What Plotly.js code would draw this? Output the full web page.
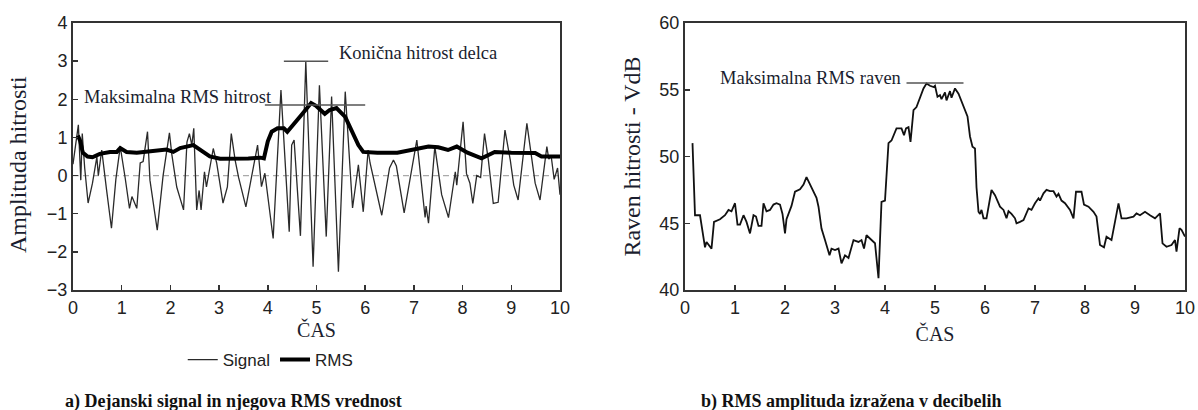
<!DOCTYPE html>
<html>
<head>
<meta charset="utf-8">
<script src="https://cdn.plot.ly/plotly-3.0.1.min.js"></script>
<style>
html,body{margin:0;padding:0;background:#fff;}
#chart{width:1198px;height:410px;}
</style>
</head>
<body>
<div id="chart"></div>
<script>
// ---- Panel a) raw signal and its RMS ----
const sigT = [0.00,0.06,0.11,0.16,0.19,0.24,0.31,0.40,0.49,0.52,0.59,0.69,0.79,0.88,0.97,1.07,1.16,1.21,1.31,1.38,1.44,1.53,1.58,1.73,1.85,1.98,2.03,2.13,2.27,2.34,2.39,2.44,2.48,2.54,2.59,2.63,2.70,2.74,2.88,2.95,3.08,3.17,3.25,3.33,3.40,3.55,3.67,3.79,3.87,3.94,4.11,4.27,4.44,4.49,4.54,4.67,4.78,4.93,5.06,5.20,5.31,5.45,5.59,5.74,5.86,5.96,6.06,6.10,6.34,6.50,6.58,6.64,6.80,7.06,7.23,7.25,7.30,7.43,7.57,7.71,7.85,7.88,8.01,8.08,8.15,8.21,8.29,8.37,8.45,8.53,8.63,8.73,8.87,8.98,9.05,9.14,9.32,9.42,9.49,9.59,9.73,9.77,9.82,9.88,9.95,10.00];
const sigV = [0.30,0.90,1.33,-0.12,1.10,0.20,-0.72,-0.20,0.49,0.00,0.67,-0.38,-1.38,-0.10,0.76,-0.05,-0.86,-0.55,-0.86,0.33,0.37,1.15,-0.12,-1.43,0.00,1.12,0.55,-0.30,-0.90,0.88,1.10,0.80,1.24,-0.90,-0.39,-0.90,0.10,-0.30,0.71,0.33,-0.72,-0.30,1.10,0.40,-0.05,-0.82,-0.03,0.80,-0.29,0.06,-1.65,2.24,-1.47,0.80,0.93,-1.58,2.99,-2.39,2.37,-1.60,2.07,-2.52,2.20,-0.85,0.28,-0.95,0.67,0.33,-1.04,0.20,0.41,0.25,-0.98,0.93,-1.10,-0.80,-1.25,0.76,-0.50,-1.10,0.10,-0.25,1.41,0.05,-0.20,-0.73,0.00,-0.05,1.10,0.40,-0.73,-0.70,1.19,0.40,-0.25,-0.64,1.37,0.40,-0.20,-0.64,0.76,0.43,0.50,-0.10,0.20,-0.50];

const rmsT = [0.10,0.15,0.20,0.30,0.40,0.55,0.76,0.90,0.97,1.10,1.31,1.51,1.72,1.92,2.06,2.20,2.47,2.63,2.81,3.02,3.30,3.60,3.85,3.92,4.00,4.08,4.20,4.33,4.40,4.52,4.69,4.89,4.99,5.10,5.17,5.27,5.41,5.59,5.72,5.86,5.96,6.25,6.66,7.10,7.30,7.50,7.70,7.88,8.10,8.39,8.66,9.00,9.49,9.62,10.00];
const rmsV = [1.05,0.90,0.60,0.50,0.48,0.57,0.62,0.62,0.72,0.62,0.60,0.62,0.64,0.68,0.62,0.72,0.80,0.67,0.50,0.44,0.44,0.45,0.47,0.45,0.90,1.15,1.24,1.24,1.15,1.32,1.59,1.90,1.83,1.70,1.62,1.72,1.77,1.54,1.19,0.80,0.62,0.60,0.60,0.72,0.76,0.74,0.67,0.76,0.60,0.45,0.62,0.60,0.59,0.50,0.50];

// ---- Panel b) RMS level in dB ----
const dbT = [0.15,0.20,0.30,0.37,0.40,0.43,0.50,0.53,0.58,0.70,0.80,0.87,0.93,1.00,1.05,1.10,1.17,1.23,1.30,1.37,1.42,1.47,1.53,1.57,1.63,1.70,1.77,1.83,1.90,1.95,2.00,2.03,2.13,2.20,2.30,2.37,2.43,2.53,2.63,2.67,2.73,2.80,2.89,2.93,3.00,3.07,3.13,3.20,3.27,3.37,3.47,3.53,3.58,3.63,3.73,3.80,3.87,3.93,4.00,4.07,4.13,4.23,4.33,4.38,4.42,4.47,4.51,4.57,4.63,4.70,4.77,4.83,4.90,4.97,5.00,5.05,5.10,5.13,5.20,5.23,5.30,5.33,5.40,5.47,5.53,5.60,5.65,5.70,5.75,5.80,5.83,5.87,5.90,5.93,5.97,6.03,6.13,6.20,6.30,6.37,6.40,6.43,6.47,6.53,6.60,6.63,6.70,6.77,6.87,6.93,7.00,7.07,7.10,7.17,7.23,7.30,7.37,7.43,7.47,7.53,7.60,7.70,7.77,7.82,7.93,7.98,8.07,8.17,8.23,8.30,8.38,8.43,8.53,8.60,8.67,8.73,8.83,8.97,9.03,9.10,9.20,9.30,9.40,9.50,9.55,9.63,9.73,9.80,9.83,9.89,9.93,10.00];
const dbV = [51.0,45.6,45.6,43.74,43.2,43.6,43.2,43.1,45.1,45.3,45.6,46.0,45.9,46.5,44.9,44.9,45.6,45.1,44.24,45.6,45.5,44.8,44.8,46.5,45.9,46.0,46.4,46.5,46.4,45.7,44.24,45.3,46.3,47.36,47.55,47.9,48.45,47.7,46.9,46.24,44.6,43.74,42.6,43.1,42.99,43.1,42.0,42.6,42.4,43.74,43.6,43.74,43.1,44.1,43.74,43.5,40.88,46.6,46.7,51.0,51.2,52.1,52.1,51.6,52.1,52.2,51.1,53.47,53.7,54.47,55.1,55.47,55.3,55.2,55.3,54.47,54.6,54.3,54.8,54.2,54.9,54.4,55.1,54.7,54.1,53.35,53.0,51.5,50.73,50.6,47.7,45.86,45.7,46.0,45.37,45.37,47.49,47.1,46.24,46.0,45.7,45.37,45.9,45.7,45.37,44.99,45.1,45.24,46.11,46.0,46.5,46.87,46.7,47.24,47.5,47.4,47.4,47.0,47.2,46.7,46.5,46.0,45.37,47.36,47.36,46.4,46.24,45.86,45.5,43.37,43.2,43.99,43.74,45.24,46.49,45.37,45.37,45.5,45.74,45.6,45.86,45.6,45.37,45.74,43.49,43.24,43.37,43.74,42.87,44.62,44.5,44.0];

// annotation marker levels (data units)
const rmsMaxLevel = 1.85, rmsMaxSpan = [3.94, 6.0];
const peakLevel = 3.0, peakSpan = [4.33, 5.24];
const dbMaxLevel = 55.5, dbMaxSpan = [4.43, 5.57];

const serif = 'Liberation Serif, Times New Roman, serif';
const sans = 'Liberation Sans, Arial, sans-serif';
const txt = '#1a1d2e';

const traces = [
  {x: sigT, y: sigV, type: 'scatter', mode: 'lines', name: 'Signal',
   line: {color: '#2a2a2a', width: 1.3}, xaxis: 'x', yaxis: 'y'},
  {x: rmsT, y: rmsV, type: 'scatter', mode: 'lines', name: 'RMS',
   line: {color: '#000', width: 4}, xaxis: 'x', yaxis: 'y'},
  {x: dbT, y: dbV, type: 'scatter', mode: 'lines', name: 'dB', showlegend: false,
   line: {color: '#111', width: 1.8}, xaxis: 'x2', yaxis: 'y2'}
];

const axBase = {
  showline: true, linecolor: '#333', linewidth: 2, mirror: true,
  ticks: 'inside', ticklen: 5, tickwidth: 1.5, tickcolor: '#333',
  showgrid: false, zeroline: false, automargin: false,
  tickfont: {family: sans, size: 18, color: '#222'}
};

const yDom = [1 - 290/410, 1 - 23/410];

const layout = {
  width: 1198, height: 410,
  margin: {l: 0, r: 0, t: 0, b: 0},
  paper_bgcolor: '#fff', plot_bgcolor: '#fff',
  showlegend: true,
  legend: {orientation: 'h', x: 0.226, xanchor: 'center', y: 0.122, yanchor: 'middle',
           font: {family: sans, size: 17, color: '#222'}, itemwidth: 30, tracegroupgap: 0},
  xaxis: Object.assign({}, axBase, {domain: [73/1198, 560/1198], range: [0, 10], dtick: 1, anchor: 'y',
    title: {text: 'ČAS', font: {family: serif, size: 20, color: txt}, standoff: 6}}),
  yaxis: Object.assign({}, axBase, {domain: yDom, range: [-3, 4], dtick: 1, anchor: 'x'}),
  xaxis2: Object.assign({}, axBase, {domain: [685/1198, 1185/1198], range: [0, 10], dtick: 1, anchor: 'y2',
    title: {text: 'ČAS', font: {family: serif, size: 20, color: txt}, standoff: 10}}),
  yaxis2: Object.assign({}, axBase, {domain: yDom, range: [40, 60], dtick: 5, anchor: 'x2',
    title: {text: 'Raven hitrosti - VdB', font: {family: serif, size: 24, color: txt}, standoff: 12}}),
  shapes: [
    {type: 'line', xref: 'x', yref: 'y', x0: 0, x1: 10, y0: 0, y1: 0, layer: 'below',
     line: {color: '#aaa', width: 1.2, dash: '6px,4px'}},
    {type: 'line', xref: 'x', yref: 'y', x0: rmsMaxSpan[0], x1: rmsMaxSpan[1], y0: rmsMaxLevel, y1: rmsMaxLevel,
     line: {color: '#555', width: 1.5}},
    {type: 'line', xref: 'x', yref: 'y', x0: peakSpan[0], x1: peakSpan[1], y0: peakLevel, y1: peakLevel,
     line: {color: '#555', width: 1.5}},
    {type: 'line', xref: 'x2', yref: 'y2', x0: dbMaxSpan[0], x1: dbMaxSpan[1], y0: dbMaxLevel, y1: dbMaxLevel,
     line: {color: '#555', width: 1.5}}
  ],
  annotations: [
    {text: 'Amplituda hitrosti', xref: 'paper', yref: 'paper', x: 18/1198, y: 1 - 165/410, textangle: -90,
     xanchor: 'center', yanchor: 'middle', showarrow: false, font: {family: serif, size: 24, color: txt}},
    {text: 'Maksimalna RMS hitrost', xref: 'paper', yref: 'paper', x: 178/1198, y: 1 - 97/410,
     xanchor: 'center', yanchor: 'middle', showarrow: false, font: {family: serif, size: 18.5, color: txt}},
    {text: 'Konična hitrost delca', xref: 'paper', yref: 'paper', x: 418/1198, y: 1 - 53/410,
     xanchor: 'center', yanchor: 'middle', showarrow: false, font: {family: serif, size: 18.5, color: txt}},
    {text: 'Maksimalna RMS raven', xref: 'paper', yref: 'paper', x: 810/1198, y: 1 - 78/410,
     xanchor: 'center', yanchor: 'middle', showarrow: false, font: {family: serif, size: 18.5, color: txt}},
    {text: '<b>a) Dejanski signal in njegova RMS vrednost</b>', xref: 'paper', yref: 'paper', x: 233/1198, y: 1 - 401/410,
     xanchor: 'center', yanchor: 'middle', showarrow: false, font: {family: serif, size: 18, color: '#111'}},
    {text: '<b>b) RMS amplituda izražena v decibelih</b>', xref: 'paper', yref: 'paper', x: 851/1198, y: 1 - 401/410,
     xanchor: 'center', yanchor: 'middle', showarrow: false, font: {family: serif, size: 18, color: '#111'}}
  ]
};

Plotly.newPlot('chart', traces, layout, {displayModeBar: false, staticPlot: true});
</script>
</body>
</html>
